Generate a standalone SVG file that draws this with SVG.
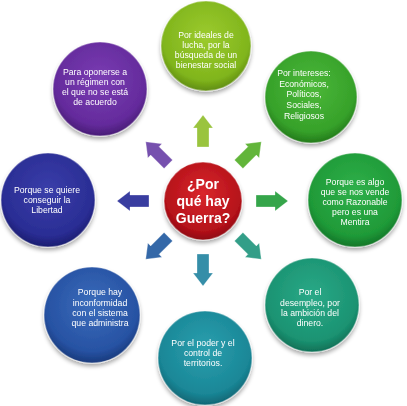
<svg xmlns="http://www.w3.org/2000/svg" xmlns:xlink="http://www.w3.org/1999/xlink" width="407" height="406" viewBox="0 0 407 406">
<style>
.t{font-family:"Liberation Sans",Arial,sans-serif;font-size:8.7px;fill:#fff;text-anchor:middle}
.c{font-family:"Liberation Sans",Arial,sans-serif;font-size:14px;font-weight:bold;fill:#fff;text-anchor:middle}
.ring{stroke:#ffffff;stroke-opacity:0.35;stroke-width:1.5}
</style>
<defs>
<filter id="sh" x="-20%" y="-20%" width="140%" height="150%"><feGaussianBlur in="SourceAlpha" stdDeviation="2"/><feOffset dy="3"/><feComponentTransfer><feFuncA type="linear" slope="0.35"/></feComponentTransfer><feMerge><feMergeNode/><feMergeNode in="SourceGraphic"/></feMerge></filter>
<radialGradient id="gRed" cx="50%" cy="40%" r="60%"><stop offset="0" stop-color="#d9262c"/><stop offset="0.8" stop-color="#b5121a"/><stop offset="1" stop-color="#8e0a10"/></radialGradient>
<radialGradient id="g1" cx="50%" cy="40%" r="60%"><stop offset="0" stop-color="#9ccb2e"/><stop offset="0.8" stop-color="#80b51c"/><stop offset="1" stop-color="#5f8c10"/></radialGradient>
<radialGradient id="g2" cx="50%" cy="40%" r="60%"><stop offset="0" stop-color="#4cb838"/><stop offset="0.8" stop-color="#36a12a"/><stop offset="1" stop-color="#237a1a"/></radialGradient>
<radialGradient id="g3" cx="50%" cy="40%" r="60%"><stop offset="0" stop-color="#2fb04a"/><stop offset="0.8" stop-color="#1f9a38"/><stop offset="1" stop-color="#137628"/></radialGradient>
<radialGradient id="g4" cx="50%" cy="40%" r="60%"><stop offset="0" stop-color="#2aa987"/><stop offset="0.8" stop-color="#1b9372"/><stop offset="1" stop-color="#0f7056"/></radialGradient>
<radialGradient id="g5" cx="50%" cy="40%" r="60%"><stop offset="0" stop-color="#2a9fae"/><stop offset="0.8" stop-color="#1a8797"/><stop offset="1" stop-color="#0f6674"/></radialGradient>
<radialGradient id="g6" cx="50%" cy="40%" r="60%"><stop offset="0" stop-color="#3a6cbb"/><stop offset="0.8" stop-color="#2752a3"/><stop offset="1" stop-color="#183a7c"/></radialGradient>
<radialGradient id="g7" cx="50%" cy="40%" r="60%"><stop offset="0" stop-color="#3a3eaa"/><stop offset="0.8" stop-color="#2a2d94"/><stop offset="1" stop-color="#1b1d70"/></radialGradient>
<radialGradient id="g8" cx="50%" cy="40%" r="60%"><stop offset="0" stop-color="#7a3cb3"/><stop offset="0.8" stop-color="#642b9c"/><stop offset="1" stop-color="#481c76"/></radialGradient>
<path id="arr" d="M0,-16 L10,-3 L6,-3 L6,16 L-6,16 L-6,-3 L-10,-3 Z"/>
</defs>
<rect width="407" height="406" fill="#fff"/>
<g id="connectors" stroke="#ffffff" stroke-opacity="0.4" stroke-width="0.8">
<use xlink:href="#arr" href="#arr" fill="#9ac43e" transform="translate(203,131)"/>
<use xlink:href="#arr" href="#arr" fill="#62b53a" transform="translate(250,153) rotate(45)"/>
<use xlink:href="#arr" href="#arr" fill="#35a54a" transform="translate(272,201) rotate(90)"/>
<use xlink:href="#arr" href="#arr" fill="#339e88" transform="translate(250,248) rotate(135)"/>
<use xlink:href="#arr" href="#arr" fill="#358ea8" transform="translate(203,270) rotate(180)"/>
<use xlink:href="#arr" href="#arr" fill="#3468a8" transform="translate(157,248) rotate(225)"/>
<use xlink:href="#arr" href="#arr" fill="#393da0" transform="translate(133,201) rotate(270)"/>
<use xlink:href="#arr" href="#arr" fill="#7650ae" transform="translate(157,153) rotate(315)"/>
</g>
<g id="center" filter="url(#sh)">
<circle cx="203" cy="201" r="39" fill="url(#gRed)" class="ring"/>
<text class="c" x="203" y="189">¿Por</text>
<text class="c" x="203" y="206">qué hay</text>
<text class="c" x="203" y="223">Guerra?</text>
</g>
<g id="n1" filter="url(#sh)">
<circle cx="206" cy="46" r="45" fill="url(#g1)" class="ring"/>
<text class="t" x="206" y="38">Por ideales de</text>
<text class="t" x="206" y="48">lucha, por la</text>
<text class="t" x="206" y="58">búsqueda de un</text>
<text class="t" x="206" y="68">bienestar social</text>
</g>
<g id="n2" filter="url(#sh)">
<circle cx="311" cy="97" r="46" fill="url(#g2)" class="ring"/>
<text class="t" x="304" y="76">Por intereses:</text>
<text class="t" x="304" y="87">Económicos,</text>
<text class="t" x="304" y="97">Políticos,</text>
<text class="t" x="304" y="108">Sociales,</text>
<text class="t" x="304" y="119">Religiosos</text>
</g>
<g id="n3" filter="url(#sh)">
<circle cx="355" cy="200" r="47" fill="url(#g3)" class="ring"/>
<text class="t" x="355" y="185">Porque es algo</text>
<text class="t" x="355" y="195">que se nos vende</text>
<text class="t" x="355" y="205">como Razonable</text>
<text class="t" x="355" y="215">pero es una</text>
<text class="t" x="355" y="225">Mentira</text>
</g>
<g id="n4" filter="url(#sh)">
<circle cx="312" cy="305" r="47" fill="url(#g4)" class="ring"/>
<text class="t" x="310" y="295">Por el</text>
<text class="t" x="310" y="306">desempleo, por</text>
<text class="t" x="310" y="316">la ambición del</text>
<text class="t" x="310" y="326">dinero.</text>
</g>
<g id="n5" filter="url(#sh)">
<circle cx="205" cy="358" r="47" fill="url(#g5)" class="ring"/>
<text class="t" x="203" y="346">Por el poder y el</text>
<text class="t" x="203" y="356">control de</text>
<text class="t" x="203" y="366">territorios.</text>
</g>
<g id="n6" filter="url(#sh)">
<circle cx="92" cy="315" r="48" fill="url(#g6)" class="ring"/>
<text class="t" x="100" y="295">Porque hay</text>
<text class="t" x="100" y="306">inconformidad</text>
<text class="t" x="100" y="316">con el sistema</text>
<text class="t" x="100" y="326">que administra</text>
</g>
<g id="n7" filter="url(#sh)">
<circle cx="48" cy="200" r="47" fill="url(#g7)" class="ring"/>
<text class="t" x="47" y="193">Porque se quiere</text>
<text class="t" x="47" y="203">conseguir la</text>
<text class="t" x="47" y="213">Libertad</text>
</g>
<g id="n8" filter="url(#sh)">
<circle cx="100" cy="89" r="47" fill="url(#g8)" class="ring"/>
<text class="t" x="95" y="75">Para oponerse a</text>
<text class="t" x="95" y="85">un régimen con</text>
<text class="t" x="95" y="95">el que no se está</text>
<text class="t" x="95" y="105">de acuerdo</text>
</g>
</svg>
